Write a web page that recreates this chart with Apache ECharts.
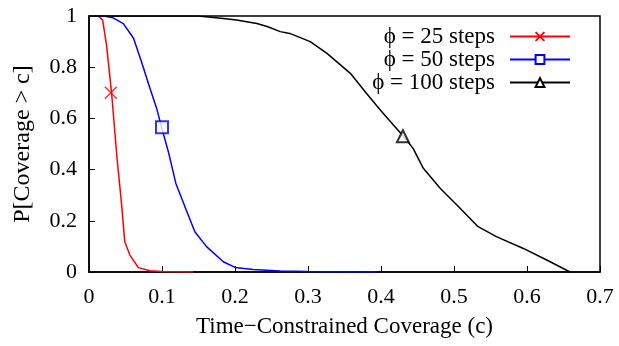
<!DOCTYPE html>
<html lang="en">
<head>
    <meta charset="utf-8">
    <title>Coverage</title>
    <script src="https://cdn.jsdelivr.net/npm/echarts@6/dist/echarts.min.js"></script>
    <style>
        html, body { margin: 0; padding: 0; background: #fff; }
    </style>
</head>
<body>

<div id="main" style="width:619px;height:346px;"></div>

<script type="text/javascript">

    // curves: [coverage c, P[Coverage > c]]
    var steps25 = [[0,1],[0.0128,1],[0.0187,0.984],[0.024,0.887],[0.031,0.698],[0.038,0.457],
        [0.0447,0.262],[0.049,0.118],[0.056,0.066],[0.0676,0.017],[0.0836,0.005],[0.1,0.002],[0.143,0]];
    var steps50 = [[0,1],[0.02,1],[0.033,0.993],[0.047,0.97],[0.061,0.913],[0.072,0.82],[0.0836,0.717],
        [0.0927,0.639],[0.0995,0.565],[0.1087,0.47],[0.119,0.346],[0.134,0.236],[0.145,0.157],
        [0.161,0.099],[0.184,0.04],[0.2,0.018],[0.225,0.01],[0.262,0.004],[0.3,0.002],[0.395,0]];
    var steps100 = [[0,1],[0.15,1],[0.184,0.99],[0.202,0.984],[0.23,0.971],[0.245,0.958],[0.262,0.939],
        [0.275,0.932],[0.303,0.9],[0.326,0.854],[0.358,0.776],[0.38,0.698],[0.399,0.633],[0.417,0.574],
        [0.431,0.529],[0.444,0.483],[0.458,0.405],[0.481,0.327],[0.504,0.262],[0.533,0.177],
        [0.558,0.138],[0.595,0.092],[0.627,0.047],[0.659,0]];

    // one marker per curve
    var marks25 = [[0.03, 0.7]];
    var marks50 = [[0.1, 0.565]];
    var marks100 = [[0.43, 0.53]];

    var names = ['\u03D5 = 25 steps', '\u03D5 = 50 steps', '\u03D5 = 100 steps'];
    var colors = ['#ff0000', '#0000ff', '#000000'];
    var symbols = ['path://M0,0L10,10M10,0L0,10', 'emptyRect', 'emptyTriangle'];

    var FONT = 'Liberation Serif';

    var myChart = echarts.init(document.getElementById('main'));

    var lines = [steps25, steps50, steps100];
    var marks = [marks25, marks50, marks100];
    var series = [];
    for (var i = 0; i < 3; i++) {
        series.push({
            name: names[i],
            type: 'line',
            data: lines[i],
            showSymbol: false,
            symbol: symbols[i],
            symbolSize: 11,
            lineStyle: { color: colors[i], width: 1.5 },
            itemStyle: { color: colors[i], borderColor: colors[i], borderWidth: 1.5 },
            animation: false
        });
        series.push({
            name: names[i],
            type: 'scatter',
            data: marks[i],
            symbol: symbols[i],
            symbolSize: 12,
            itemStyle: { color: colors[i], borderColor: colors[i], borderWidth: 1.5 },
            z: 5,
            animation: false
        });
    }

    var option = {
        backgroundColor: '#ffffff',
        grid: {
            left: 89, right: 19, top: 16, bottom: 74,
            show: true, borderColor: '#000', borderWidth: 1.5
        },
        legend: {
            data: names,
            orient: 'vertical',
            right: 43,
            top: 20,
            align: 'right',
            itemWidth: 60,
            itemHeight: 11,
            itemGap: 0,
            textStyle: {
                fontFamily: FONT, fontSize: 23, lineHeight: 23, color: '#000',
                width: 130, align: 'right', padding: [0, 10, 0, 0]
            }
        },
        xAxis: {
            type: 'value',
            min: 0, max: 0.7, interval: 0.1,
            name: 'Time\u2212Constrained Coverage (c)',
            nameLocation: 'middle',
            nameGap: 43,
            nameTextStyle: { fontFamily: FONT, fontSize: 23, color: '#000' },
            axisLine: { lineStyle: { color: '#000', width: 1.5 } },
            axisTick: { inside: true, length: 6, lineStyle: { color: '#000' } },
            axisLabel: { fontFamily: FONT, fontSize: 22, color: '#000', margin: 14 },
            splitLine: { show: false }
        },
        yAxis: {
            type: 'value',
            min: 0, max: 1, interval: 0.2,
            name: 'P[Coverage > c]',
            nameLocation: 'middle',
            nameGap: 54,
            nameTextStyle: { fontFamily: FONT, fontSize: 24, color: '#000' },
            axisLine: { lineStyle: { color: '#000', width: 1.5 } },
            axisTick: { inside: true, length: 6, lineStyle: { color: '#000' } },
            axisLabel: { fontFamily: FONT, fontSize: 22, color: '#000', margin: 12 },
            splitLine: { show: false }
        },
        series: series
    };

    myChart.setOption(option);

</script>

</body>
</html>
